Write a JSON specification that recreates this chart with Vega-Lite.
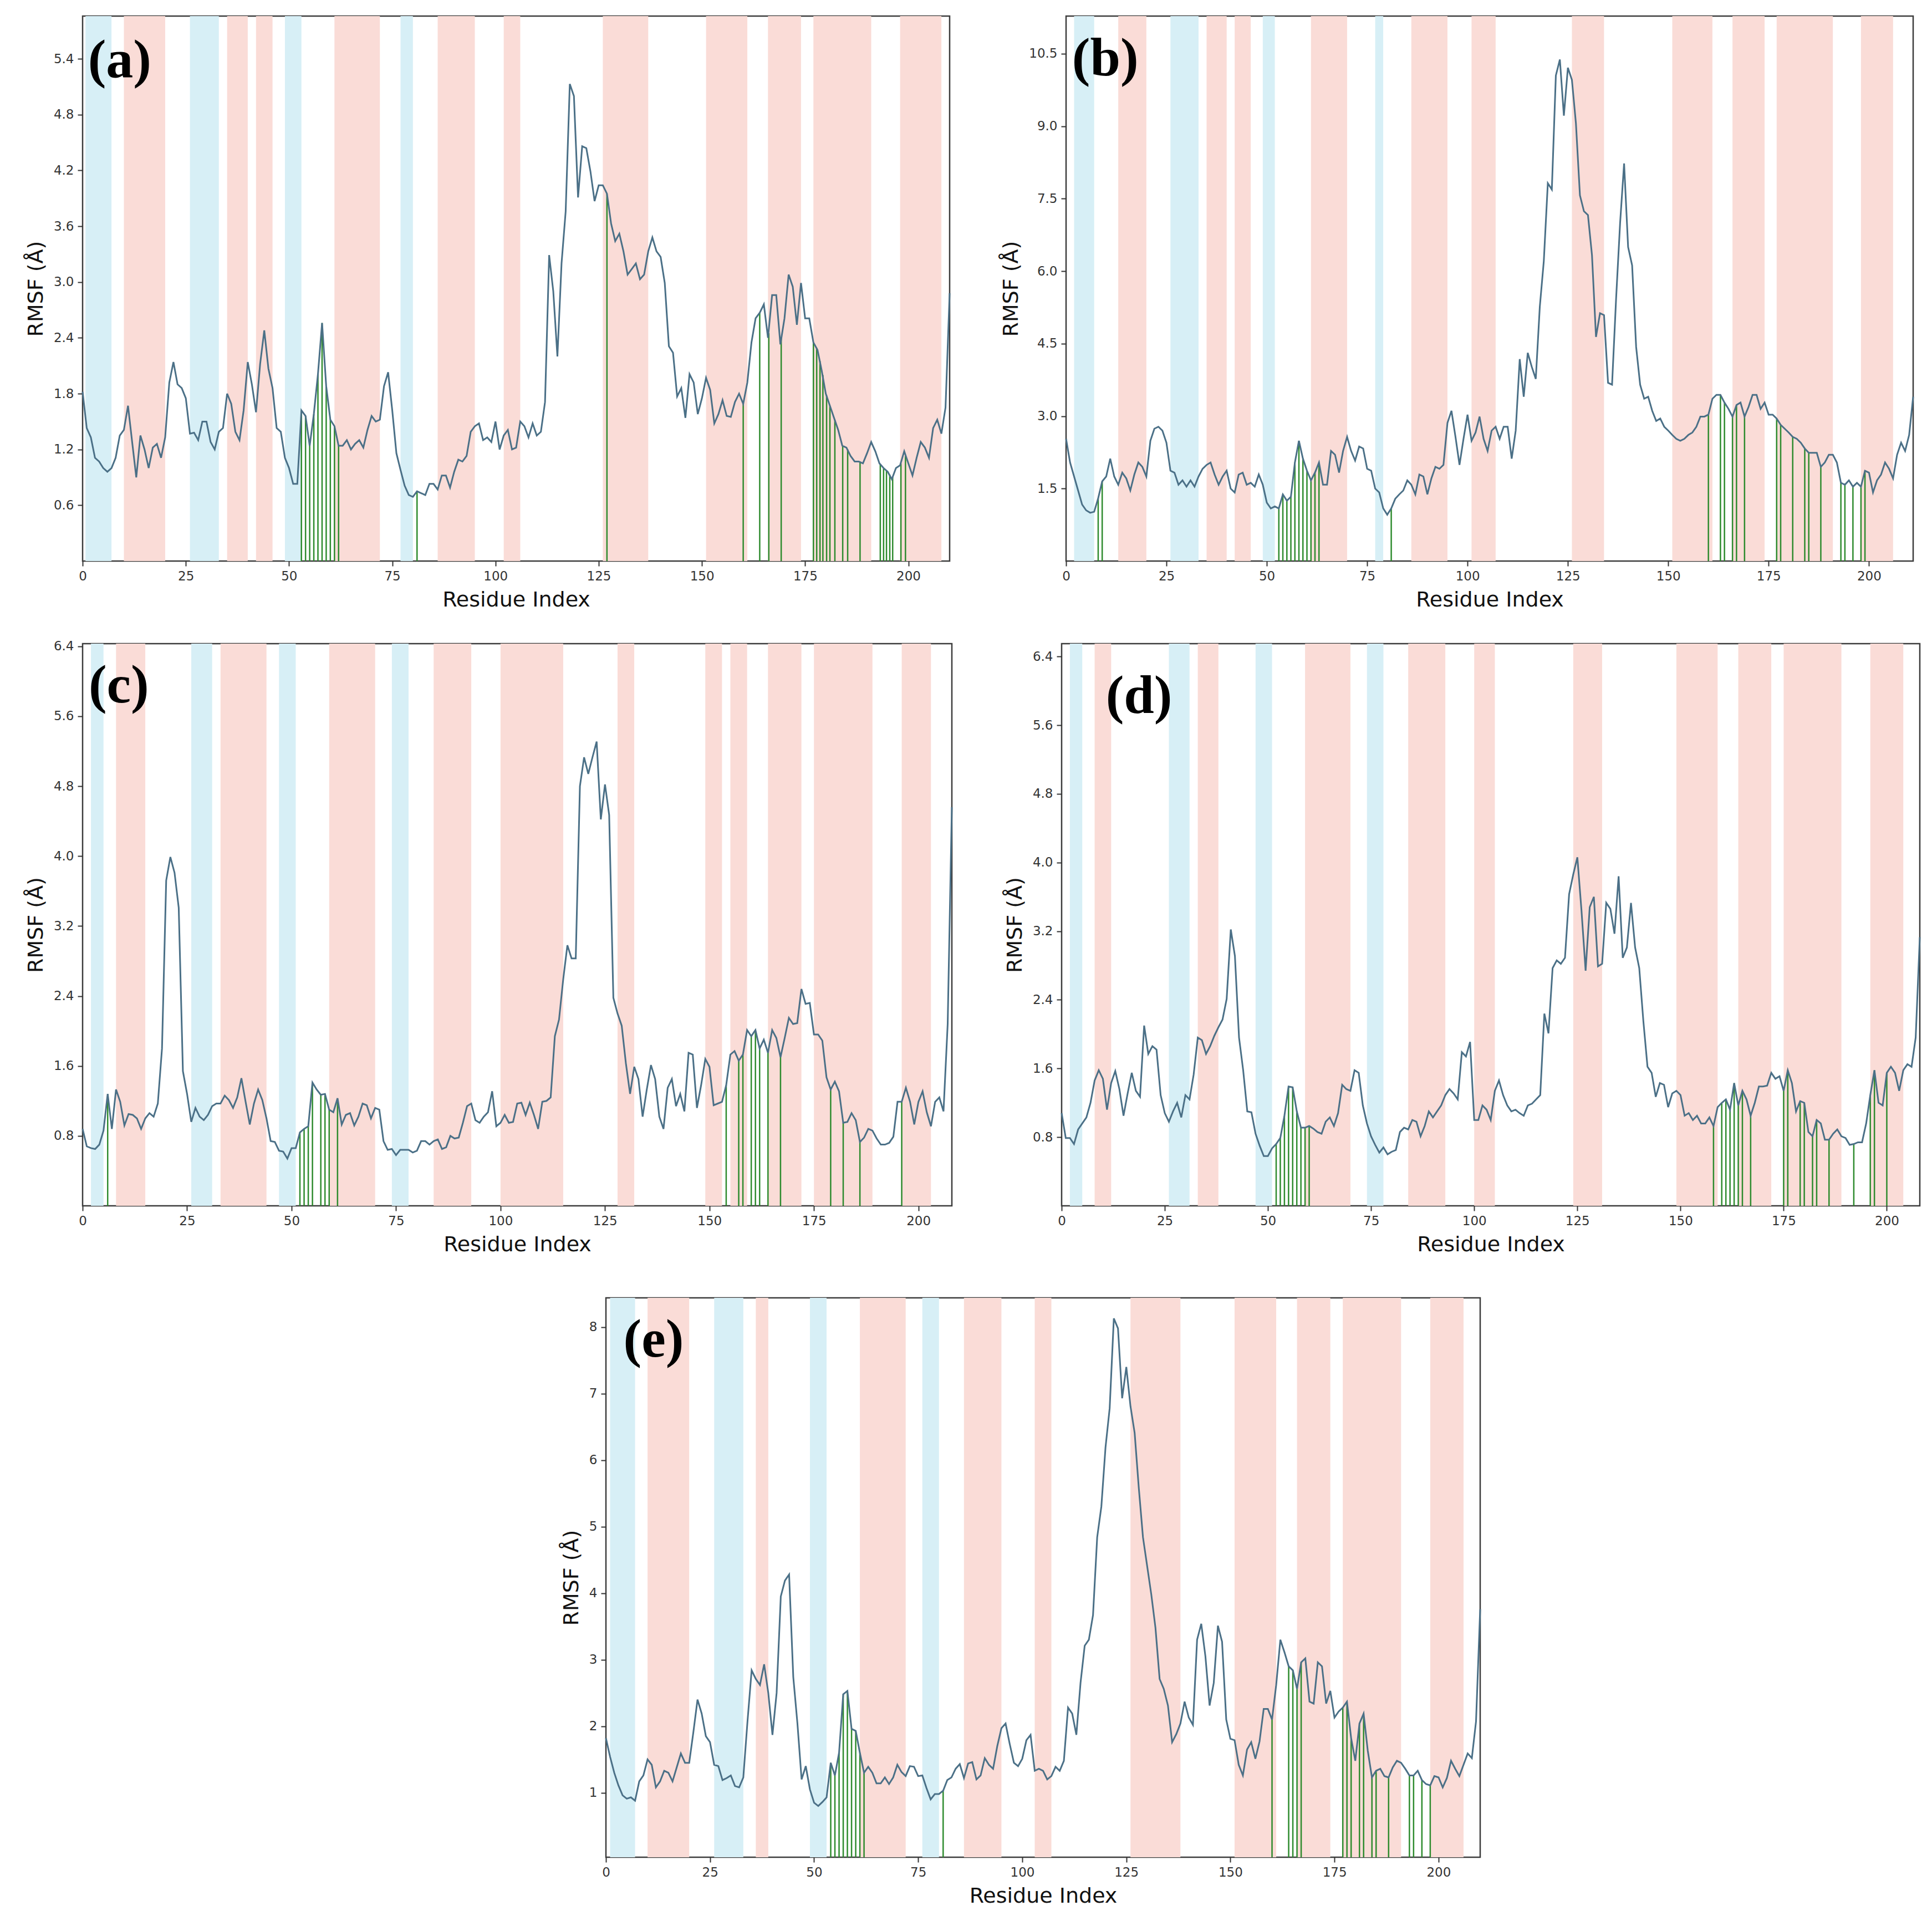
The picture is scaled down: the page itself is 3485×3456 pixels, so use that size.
{
  "$schema": "https://vega.github.io/schema/vega-lite/v6.json",
  "background": "white",
  "padding": {"left": 45, "top": 27, "right": 5, "bottom": 5},
  "datasets": {
    "labels": [
      {"p":"a","lab":"(a)"},{"p":"b","lab":"(b)"},{"p":"c","lab":"(c)"},{"p":"d","lab":"(d)"},{"p":"e","lab":"(e)"}
    ],
    "bands": [
      {"p":"a","r":0.7,"r2":7,"t":"b"},{"p":"a","r":10,"r2":20,"t":"p"},{"p":"a","r":26,"r2":33,"t":"b"},{"p":"a","r":35,"r2":40,"t":"p"},{"p":"a","r":42,"r2":46,"t":"p"},{"p":"a","r":49,"r2":53,"t":"b"},{"p":"a","r":61,"r2":72,"t":"p"},{"p":"a","r":77,"r2":80,"t":"b"},{"p":"a","r":86,"r2":95,"t":"p"},{"p":"a","r":102,"r2":106,"t":"p"},{"p":"a","r":126,"r2":137,"t":"p"},{"p":"a","r":151,"r2":161,"t":"p"},{"p":"a","r":166,"r2":174,"t":"p"},{"p":"a","r":177,"r2":191,"t":"p"},{"p":"a","r":198,"r2":208,"t":"p"},
      {"p":"b","r":2,"r2":7,"t":"b"},{"p":"b","r":13,"r2":20,"t":"p"},{"p":"b","r":26,"r2":33,"t":"b"},{"p":"b","r":35,"r2":40,"t":"p"},{"p":"b","r":42,"r2":46,"t":"p"},{"p":"b","r":49,"r2":52,"t":"b"},{"p":"b","r":61,"r2":70,"t":"p"},{"p":"b","r":77,"r2":79,"t":"b"},{"p":"b","r":86,"r2":95,"t":"p"},{"p":"b","r":101,"r2":107,"t":"p"},{"p":"b","r":126,"r2":134,"t":"p"},{"p":"b","r":151,"r2":161,"t":"p"},{"p":"b","r":166,"r2":174,"t":"p"},{"p":"b","r":177,"r2":191,"t":"p"},{"p":"b","r":198,"r2":206,"t":"p"},
      {"p":"c","r":2,"r2":5,"t":"b"},{"p":"c","r":8,"r2":15,"t":"p"},{"p":"c","r":26,"r2":31,"t":"b"},{"p":"c","r":33,"r2":44,"t":"p"},{"p":"c","r":47,"r2":51,"t":"b"},{"p":"c","r":59,"r2":70,"t":"p"},{"p":"c","r":74,"r2":78,"t":"b"},{"p":"c","r":84,"r2":93,"t":"p"},{"p":"c","r":100,"r2":115,"t":"p"},{"p":"c","r":128,"r2":132,"t":"p"},{"p":"c","r":149,"r2":153,"t":"p"},{"p":"c","r":155,"r2":159,"t":"p"},{"p":"c","r":164,"r2":172,"t":"p"},{"p":"c","r":175,"r2":189,"t":"p"},{"p":"c","r":196,"r2":203,"t":"p"},
      {"p":"d","r":2,"r2":5,"t":"b"},{"p":"d","r":8,"r2":12,"t":"p"},{"p":"d","r":26,"r2":31,"t":"b"},{"p":"d","r":33,"r2":38,"t":"p"},{"p":"d","r":47,"r2":51,"t":"b"},{"p":"d","r":59,"r2":70,"t":"p"},{"p":"d","r":74,"r2":78,"t":"b"},{"p":"d","r":84,"r2":93,"t":"p"},{"p":"d","r":100,"r2":105,"t":"p"},{"p":"d","r":124,"r2":131,"t":"p"},{"p":"d","r":149,"r2":159,"t":"p"},{"p":"d","r":164,"r2":172,"t":"p"},{"p":"d","r":175,"r2":189,"t":"p"},{"p":"d","r":196,"r2":204,"t":"p"},
      {"p":"e","r":1,"r2":7,"t":"b"},{"p":"e","r":10,"r2":20,"t":"p"},{"p":"e","r":26,"r2":33,"t":"b"},{"p":"e","r":36,"r2":39,"t":"p"},{"p":"e","r":49,"r2":53,"t":"b"},{"p":"e","r":61,"r2":72,"t":"p"},{"p":"e","r":76,"r2":80,"t":"b"},{"p":"e","r":86,"r2":95,"t":"p"},{"p":"e","r":103,"r2":107,"t":"p"},{"p":"e","r":126,"r2":138,"t":"p"},{"p":"e","r":151,"r2":161,"t":"p"},{"p":"e","r":166,"r2":174,"t":"p"},{"p":"e","r":177,"r2":191,"t":"p"},{"p":"e","r":198,"r2":206,"t":"p"}
    ],
    "green": [
      {"p":"a","r":53,"v":1.62},{"p":"a","r":54,"v":1.56},{"p":"a","r":55,"v":1.24},{"p":"a","r":56,"v":1.58},{"p":"a","r":57,"v":2.01},{"p":"a","r":58,"v":2.56},{"p":"a","r":59,"v":1.88},{"p":"a","r":60,"v":1.52},{"p":"a","r":61,"v":1.45},{"p":"a","r":62,"v":1.24},{"p":"a","r":81,"v":0.75},{"p":"a","r":127,"v":3.95},{"p":"a","r":160,"v":1.69},{"p":"a","r":164,"v":2.67},{"p":"a","r":166.2,"v":2.45},{"p":"a","r":169.2,"v":2.4},{"p":"a","r":177,"v":2.35},{"p":"a","r":177.8,"v":2.29},{"p":"a","r":178.6,"v":2.15},{"p":"a","r":179.3,"v":2.0},{"p":"a","r":180.2,"v":1.78},{"p":"a","r":181,"v":1.67},{"p":"a","r":182.2,"v":1.52},{"p":"a","r":184.1,"v":1.24},{"p":"a","r":185.3,"v":1.2},{"p":"a","r":188.3,"v":1.07},{"p":"a","r":193.2,"v":1.04},{"p":"a","r":194,"v":1.0},{"p":"a","r":194.7,"v":0.97},{"p":"a","r":195.5,"v":0.93},{"p":"a","r":196.2,"v":0.9},{"p":"a","r":198.2,"v":1.05},{"p":"a","r":199.3,"v":1.13},
      {"p":"b","r":8,"v":1.3},{"p":"b","r":9,"v":1.65},{"p":"b","r":53,"v":1.09},{"p":"b","r":54,"v":1.38},{"p":"b","r":55,"v":1.25},{"p":"b","r":56,"v":1.33},{"p":"b","r":57,"v":2.04},{"p":"b","r":58,"v":2.49},{"p":"b","r":59,"v":2.12},{"p":"b","r":60,"v":1.87},{"p":"b","r":61,"v":1.67},{"p":"b","r":62,"v":1.83},{"p":"b","r":63,"v":2.04},{"p":"b","r":81,"v":1.09},{"p":"b","r":160,"v":3.03},{"p":"b","r":163,"v":3.44},{"p":"b","r":164,"v":3.28},{"p":"b","r":166,"v":2.99},{"p":"b","r":167,"v":3.23},{"p":"b","r":169,"v":2.99},{"p":"b","r":177,"v":2.95},{"p":"b","r":178,"v":2.82},{"p":"b","r":181,"v":2.57},{"p":"b","r":184,"v":2.33},{"p":"b","r":185,"v":2.24},{"p":"b","r":188,"v":1.95},{"p":"b","r":193,"v":1.62},{"p":"b","r":194,"v":1.58},{"p":"b","r":196,"v":1.54},{"p":"b","r":198,"v":1.54},{"p":"b","r":199,"v":1.87},
      {"p":"c","r":6,"v":1.28},{"p":"c","r":52,"v":0.84},{"p":"c","r":53,"v":0.88},{"p":"c","r":54,"v":0.91},{"p":"c","r":55,"v":1.41},{"p":"c","r":57,"v":1.27},{"p":"c","r":58,"v":1.28},{"p":"c","r":59,"v":1.1},{"p":"c","r":61,"v":1.23},{"p":"c","r":154,"v":1.38},{"p":"c","r":157,"v":1.66},{"p":"c","r":158,"v":1.73},{"p":"c","r":160,"v":1.94},{"p":"c","r":161,"v":2.01},{"p":"c","r":162,"v":1.8},{"p":"c","r":164,"v":1.75},{"p":"c","r":167,"v":1.7},{"p":"c","r":179,"v":1.33},{"p":"c","r":182,"v":0.95},{"p":"c","r":186,"v":0.73},{"p":"c","r":196,"v":1.19},
      {"p":"d","r":52,"v":0.72},{"p":"d","r":53,"v":0.79},{"p":"d","r":54,"v":1.05},{"p":"d","r":55,"v":1.39},{"p":"d","r":56,"v":1.38},{"p":"d","r":57,"v":1.1},{"p":"d","r":58,"v":0.91},{"p":"d","r":59,"v":0.91},{"p":"d","r":60,"v":0.93},{"p":"d","r":158,"v":0.93},{"p":"d","r":160,"v":1.2},{"p":"d","r":161,"v":1.24},{"p":"d","r":162,"v":1.12},{"p":"d","r":163,"v":1.43},{"p":"d","r":164,"v":1.17},{"p":"d","r":165,"v":1.34},{"p":"d","r":167,"v":1.05},{"p":"d","r":175,"v":1.34},{"p":"d","r":176,"v":1.58},{"p":"d","r":179,"v":1.22},{"p":"d","r":180,"v":1.2},{"p":"d","r":182,"v":0.81},{"p":"d","r":183,"v":1.0},{"p":"d","r":186,"v":0.77},{"p":"d","r":192,"v":0.72},{"p":"d","r":196,"v":1.29},{"p":"d","r":197,"v":1.58},{"p":"d","r":200,"v":1.55},
      {"p":"e","r":54,"v":1.45},{"p":"e","r":55,"v":1.26},{"p":"e","r":56,"v":1.6},{"p":"e","r":57,"v":2.48},{"p":"e","r":58,"v":2.53},{"p":"e","r":59,"v":1.96},{"p":"e","r":60,"v":1.93},{"p":"e","r":61,"v":1.6},{"p":"e","r":62,"v":1.3},{"p":"e","r":81,"v":1.03},{"p":"e","r":160,"v":2.1},{"p":"e","r":164,"v":2.9},{"p":"e","r":165,"v":2.84},{"p":"e","r":166,"v":2.56},{"p":"e","r":167,"v":2.96},{"p":"e","r":177,"v":2.28},{"p":"e","r":178,"v":2.37},{"p":"e","r":179,"v":1.82},{"p":"e","r":181,"v":2.04},{"p":"e","r":182,"v":2.19},{"p":"e","r":184,"v":1.23},{"p":"e","r":185,"v":1.33},{"p":"e","r":188,"v":1.23},{"p":"e","r":193,"v":1.26},{"p":"e","r":194,"v":1.26},{"p":"e","r":196,"v":1.19},{"p":"e","r":198,"v":1.11}
    ],
    "rmsf": [
      {"p":"a","r":0,"v":1.82},{"p":"a","r":1,"v":1.43},{"p":"a","r":2,"v":1.33},{"p":"a","r":3,"v":1.11},{"p":"a","r":4,"v":1.07},{"p":"a","r":5,"v":1.0},{"p":"a","r":6,"v":0.96},{"p":"a","r":7,"v":1.0},{"p":"a","r":8,"v":1.11},{"p":"a","r":9,"v":1.35},
      {"p":"a","r":10,"v":1.41},{"p":"a","r":11,"v":1.67},{"p":"a","r":12,"v":1.28},{"p":"a","r":13,"v":0.9},{"p":"a","r":14,"v":1.35},{"p":"a","r":15,"v":1.2},{"p":"a","r":16,"v":1.0},{"p":"a","r":17,"v":1.22},{"p":"a","r":18,"v":1.26},{"p":"a","r":19,"v":1.11},
      {"p":"a","r":20,"v":1.33},{"p":"a","r":21,"v":1.92},{"p":"a","r":22,"v":2.14},{"p":"a","r":23,"v":1.9},{"p":"a","r":24,"v":1.86},{"p":"a","r":25,"v":1.75},{"p":"a","r":26,"v":1.37},{"p":"a","r":27,"v":1.38},{"p":"a","r":28,"v":1.3},{"p":"a","r":29,"v":1.5},
      {"p":"a","r":30,"v":1.5},{"p":"a","r":31,"v":1.28},{"p":"a","r":32,"v":1.2},{"p":"a","r":33,"v":1.39},{"p":"a","r":34,"v":1.43},{"p":"a","r":35,"v":1.8},{"p":"a","r":36,"v":1.69},{"p":"a","r":37,"v":1.39},{"p":"a","r":38,"v":1.3},{"p":"a","r":39,"v":1.62},
      {"p":"a","r":40,"v":2.14},{"p":"a","r":41,"v":1.9},{"p":"a","r":42,"v":1.6},{"p":"a","r":43,"v":2.12},{"p":"a","r":44,"v":2.48},{"p":"a","r":45,"v":2.07},{"p":"a","r":46,"v":1.86},{"p":"a","r":47,"v":1.43},{"p":"a","r":48,"v":1.39},{"p":"a","r":49,"v":1.11},
      {"p":"a","r":50,"v":1.0},{"p":"a","r":51,"v":0.83},{"p":"a","r":52,"v":0.83},{"p":"a","r":53,"v":1.62},{"p":"a","r":54,"v":1.56},{"p":"a","r":55,"v":1.24},{"p":"a","r":56,"v":1.58},{"p":"a","r":57,"v":2.01},{"p":"a","r":58,"v":2.56},{"p":"a","r":59,"v":1.88},
      {"p":"a","r":60,"v":1.52},{"p":"a","r":61,"v":1.45},{"p":"a","r":62,"v":1.24},{"p":"a","r":63,"v":1.24},{"p":"a","r":64,"v":1.3},{"p":"a","r":65,"v":1.2},{"p":"a","r":66,"v":1.26},{"p":"a","r":67,"v":1.3},{"p":"a","r":68,"v":1.22},{"p":"a","r":69,"v":1.41},
      {"p":"a","r":70,"v":1.56},{"p":"a","r":71,"v":1.5},{"p":"a","r":72,"v":1.52},{"p":"a","r":73,"v":1.88},{"p":"a","r":74,"v":2.03},{"p":"a","r":75,"v":1.62},{"p":"a","r":76,"v":1.16},{"p":"a","r":77,"v":0.98},{"p":"a","r":78,"v":0.81},{"p":"a","r":79,"v":0.71},
      {"p":"a","r":80,"v":0.69},{"p":"a","r":81,"v":0.75},{"p":"a","r":82,"v":0.73},{"p":"a","r":83,"v":0.71},{"p":"a","r":84,"v":0.83},{"p":"a","r":85,"v":0.83},{"p":"a","r":86,"v":0.77},{"p":"a","r":87,"v":0.92},{"p":"a","r":88,"v":0.92},{"p":"a","r":89,"v":0.79},
      {"p":"a","r":90,"v":0.96},{"p":"a","r":91,"v":1.09},{"p":"a","r":92,"v":1.07},{"p":"a","r":93,"v":1.13},{"p":"a","r":94,"v":1.39},{"p":"a","r":95,"v":1.45},{"p":"a","r":96,"v":1.48},{"p":"a","r":97,"v":1.3},{"p":"a","r":98,"v":1.33},{"p":"a","r":99,"v":1.28},
      {"p":"a","r":100,"v":1.5},{"p":"a","r":101,"v":1.2},{"p":"a","r":102,"v":1.35},{"p":"a","r":103,"v":1.41},{"p":"a","r":104,"v":1.2},{"p":"a","r":105,"v":1.22},{"p":"a","r":106,"v":1.5},{"p":"a","r":107,"v":1.45},{"p":"a","r":108,"v":1.33},{"p":"a","r":109,"v":1.48},
      {"p":"a","r":110,"v":1.35},{"p":"a","r":111,"v":1.39},{"p":"a","r":112,"v":1.71},{"p":"a","r":113,"v":3.29},{"p":"a","r":114,"v":2.9},{"p":"a","r":115,"v":2.2},{"p":"a","r":116,"v":3.2},{"p":"a","r":117,"v":3.76},{"p":"a","r":118,"v":5.13},{"p":"a","r":119,"v":5.0},
      {"p":"a","r":120,"v":3.91},{"p":"a","r":121,"v":4.46},{"p":"a","r":122,"v":4.44},{"p":"a","r":123,"v":4.19},{"p":"a","r":124,"v":3.87},{"p":"a","r":125,"v":4.04},{"p":"a","r":126,"v":4.04},{"p":"a","r":127,"v":3.95},{"p":"a","r":128,"v":3.63},{"p":"a","r":129,"v":3.44},
      {"p":"a","r":130,"v":3.52},{"p":"a","r":131,"v":3.33},{"p":"a","r":132,"v":3.08},{"p":"a","r":133,"v":3.14},{"p":"a","r":134,"v":3.2},{"p":"a","r":135,"v":3.03},{"p":"a","r":136,"v":3.08},{"p":"a","r":137,"v":3.33},{"p":"a","r":138,"v":3.48},{"p":"a","r":139,"v":3.33},
      {"p":"a","r":140,"v":3.27},{"p":"a","r":141,"v":2.99},{"p":"a","r":142,"v":2.31},{"p":"a","r":143,"v":2.24},{"p":"a","r":144,"v":1.77},{"p":"a","r":145,"v":1.86},{"p":"a","r":146,"v":1.54},{"p":"a","r":147,"v":2.01},{"p":"a","r":148,"v":1.92},{"p":"a","r":149,"v":1.58},
      {"p":"a","r":150,"v":1.75},{"p":"a","r":151,"v":1.97},{"p":"a","r":152,"v":1.84},{"p":"a","r":153,"v":1.48},{"p":"a","r":154,"v":1.58},{"p":"a","r":155,"v":1.73},{"p":"a","r":156,"v":1.56},{"p":"a","r":157,"v":1.55},{"p":"a","r":158,"v":1.71},{"p":"a","r":159,"v":1.8},
      {"p":"a","r":160,"v":1.69},{"p":"a","r":161,"v":1.92},{"p":"a","r":162,"v":2.35},{"p":"a","r":163,"v":2.61},{"p":"a","r":164,"v":2.67},{"p":"a","r":165,"v":2.76},{"p":"a","r":166,"v":2.4},{"p":"a","r":167,"v":2.86},{"p":"a","r":168,"v":2.86},{"p":"a","r":169,"v":2.33},
      {"p":"a","r":170,"v":2.61},{"p":"a","r":171,"v":3.08},{"p":"a","r":172,"v":2.95},{"p":"a","r":173,"v":2.54},{"p":"a","r":174,"v":2.99},{"p":"a","r":175,"v":2.61},{"p":"a","r":176,"v":2.61},{"p":"a","r":177,"v":2.35},{"p":"a","r":178,"v":2.27},{"p":"a","r":179,"v":2.05},
      {"p":"a","r":180,"v":1.8},{"p":"a","r":181,"v":1.67},{"p":"a","r":182,"v":1.54},{"p":"a","r":183,"v":1.41},{"p":"a","r":184,"v":1.24},{"p":"a","r":185,"v":1.22},{"p":"a","r":186,"v":1.13},{"p":"a","r":187,"v":1.07},{"p":"a","r":188,"v":1.07},{"p":"a","r":189,"v":1.05},
      {"p":"a","r":190,"v":1.16},{"p":"a","r":191,"v":1.28},{"p":"a","r":192,"v":1.18},{"p":"a","r":193,"v":1.05},{"p":"a","r":194,"v":1.0},{"p":"a","r":195,"v":0.96},{"p":"a","r":196,"v":0.88},{"p":"a","r":197,"v":1.0},{"p":"a","r":198,"v":1.03},{"p":"a","r":199,"v":1.18},
      {"p":"a","r":200,"v":1.05},{"p":"a","r":201,"v":0.92},{"p":"a","r":202,"v":1.11},{"p":"a","r":203,"v":1.28},{"p":"a","r":204,"v":1.22},{"p":"a","r":205,"v":1.11},{"p":"a","r":206,"v":1.43},{"p":"a","r":207,"v":1.52},{"p":"a","r":208,"v":1.37},{"p":"a","r":209,"v":1.65},{"p":"a","r":210,"v":2.88},

      {"p":"b","r":0,"v":2.53},{"p":"b","r":1,"v":2.04},{"p":"b","r":2,"v":1.75},{"p":"b","r":3,"v":1.46},{"p":"b","r":4,"v":1.17},{"p":"b","r":5,"v":1.05},{"p":"b","r":6,"v":1.0},{"p":"b","r":7,"v":1.02},{"p":"b","r":8,"v":1.3},{"p":"b","r":9,"v":1.65},
      {"p":"b","r":10,"v":1.75},{"p":"b","r":11,"v":2.12},{"p":"b","r":12,"v":1.75},{"p":"b","r":13,"v":1.58},{"p":"b","r":14,"v":1.83},{"p":"b","r":15,"v":1.71},{"p":"b","r":16,"v":1.46},{"p":"b","r":17,"v":1.79},{"p":"b","r":18,"v":2.04},{"p":"b","r":19,"v":1.95},
      {"p":"b","r":20,"v":1.75},{"p":"b","r":21,"v":2.49},{"p":"b","r":22,"v":2.74},{"p":"b","r":23,"v":2.78},{"p":"b","r":24,"v":2.7},{"p":"b","r":25,"v":2.45},{"p":"b","r":26,"v":1.87},{"p":"b","r":27,"v":1.83},{"p":"b","r":28,"v":1.58},{"p":"b","r":29,"v":1.67},
      {"p":"b","r":30,"v":1.54},{"p":"b","r":31,"v":1.67},{"p":"b","r":32,"v":1.54},{"p":"b","r":33,"v":1.75},{"p":"b","r":34,"v":1.91},{"p":"b","r":35,"v":1.99},{"p":"b","r":36,"v":2.04},{"p":"b","r":37,"v":1.79},{"p":"b","r":38,"v":1.58},{"p":"b","r":39,"v":1.75},
      {"p":"b","r":40,"v":1.87},{"p":"b","r":41,"v":1.5},{"p":"b","r":42,"v":1.42},{"p":"b","r":43,"v":1.79},{"p":"b","r":44,"v":1.83},{"p":"b","r":45,"v":1.58},{"p":"b","r":46,"v":1.62},{"p":"b","r":47,"v":1.54},{"p":"b","r":48,"v":1.79},{"p":"b","r":49,"v":1.58},
      {"p":"b","r":50,"v":1.21},{"p":"b","r":51,"v":1.09},{"p":"b","r":52,"v":1.13},{"p":"b","r":53,"v":1.09},{"p":"b","r":54,"v":1.38},{"p":"b","r":55,"v":1.25},{"p":"b","r":56,"v":1.33},{"p":"b","r":57,"v":2.04},{"p":"b","r":58,"v":2.49},{"p":"b","r":59,"v":2.12},
      {"p":"b","r":60,"v":1.87},{"p":"b","r":61,"v":1.67},{"p":"b","r":62,"v":1.83},{"p":"b","r":63,"v":2.04},{"p":"b","r":64,"v":1.58},{"p":"b","r":65,"v":1.58},{"p":"b","r":66,"v":2.28},{"p":"b","r":67,"v":2.2},{"p":"b","r":68,"v":1.83},{"p":"b","r":69,"v":2.28},
      {"p":"b","r":70,"v":2.57},{"p":"b","r":71,"v":2.28},{"p":"b","r":72,"v":2.08},{"p":"b","r":73,"v":2.37},{"p":"b","r":74,"v":2.33},{"p":"b","r":75,"v":1.91},{"p":"b","r":76,"v":1.87},{"p":"b","r":77,"v":1.5},{"p":"b","r":78,"v":1.42},{"p":"b","r":79,"v":1.09},
      {"p":"b","r":80,"v":0.96},{"p":"b","r":81,"v":1.09},{"p":"b","r":82,"v":1.29},{"p":"b","r":83,"v":1.38},{"p":"b","r":84,"v":1.46},{"p":"b","r":85,"v":1.67},{"p":"b","r":86,"v":1.58},{"p":"b","r":87,"v":1.38},{"p":"b","r":88,"v":1.79},{"p":"b","r":89,"v":1.75},
      {"p":"b","r":90,"v":1.38},{"p":"b","r":91,"v":1.71},{"p":"b","r":92,"v":1.95},{"p":"b","r":93,"v":1.91},{"p":"b","r":94,"v":1.99},{"p":"b","r":95,"v":2.86},{"p":"b","r":96,"v":3.11},{"p":"b","r":97,"v":2.57},{"p":"b","r":98,"v":1.99},{"p":"b","r":99,"v":2.53},
      {"p":"b","r":100,"v":3.03},{"p":"b","r":101,"v":2.49},{"p":"b","r":102,"v":2.66},{"p":"b","r":103,"v":2.99},{"p":"b","r":104,"v":2.53},{"p":"b","r":105,"v":2.28},{"p":"b","r":106,"v":2.7},{"p":"b","r":107,"v":2.78},{"p":"b","r":108,"v":2.53},{"p":"b","r":109,"v":2.78},
      {"p":"b","r":110,"v":2.78},{"p":"b","r":111,"v":2.12},{"p":"b","r":112,"v":2.7},{"p":"b","r":113,"v":4.18},{"p":"b","r":114,"v":3.4},{"p":"b","r":115,"v":4.31},{"p":"b","r":116,"v":4.02},{"p":"b","r":117,"v":3.77},{"p":"b","r":118,"v":5.26},{"p":"b","r":119,"v":6.21},
      {"p":"b","r":120,"v":7.82},{"p":"b","r":121,"v":7.69},{"p":"b","r":122,"v":10.05},{"p":"b","r":123,"v":10.38},{"p":"b","r":124,"v":9.22},{"p":"b","r":125,"v":10.21},{"p":"b","r":126,"v":9.96},{"p":"b","r":127,"v":9.06},{"p":"b","r":128,"v":7.57},{"p":"b","r":129,"v":7.24},
      {"p":"b","r":130,"v":7.16},{"p":"b","r":131,"v":6.33},{"p":"b","r":132,"v":4.64},{"p":"b","r":133,"v":5.13},{"p":"b","r":134,"v":5.09},{"p":"b","r":135,"v":3.69},{"p":"b","r":136,"v":3.65},{"p":"b","r":137,"v":5.42},{"p":"b","r":138,"v":6.99},{"p":"b","r":139,"v":8.23},
      {"p":"b","r":140,"v":6.5},{"p":"b","r":141,"v":6.12},{"p":"b","r":142,"v":4.43},{"p":"b","r":143,"v":3.65},{"p":"b","r":144,"v":3.36},{"p":"b","r":145,"v":3.4},{"p":"b","r":146,"v":3.11},{"p":"b","r":147,"v":2.9},{"p":"b","r":148,"v":2.95},{"p":"b","r":149,"v":2.78},
      {"p":"b","r":150,"v":2.7},{"p":"b","r":151,"v":2.61},{"p":"b","r":152,"v":2.53},{"p":"b","r":153,"v":2.49},{"p":"b","r":154,"v":2.53},{"p":"b","r":155,"v":2.61},{"p":"b","r":156,"v":2.66},{"p":"b","r":157,"v":2.78},{"p":"b","r":158,"v":2.99},{"p":"b","r":159,"v":2.99},
      {"p":"b","r":160,"v":3.03},{"p":"b","r":161,"v":3.36},{"p":"b","r":162,"v":3.44},{"p":"b","r":163,"v":3.44},{"p":"b","r":164,"v":3.28},{"p":"b","r":165,"v":3.15},{"p":"b","r":166,"v":2.99},{"p":"b","r":167,"v":3.23},{"p":"b","r":168,"v":3.28},{"p":"b","r":169,"v":2.99},
      {"p":"b","r":170,"v":3.19},{"p":"b","r":171,"v":3.44},{"p":"b","r":172,"v":3.44},{"p":"b","r":173,"v":3.15},{"p":"b","r":174,"v":3.28},{"p":"b","r":175,"v":3.03},{"p":"b","r":176,"v":3.03},{"p":"b","r":177,"v":2.95},{"p":"b","r":178,"v":2.82},{"p":"b","r":179,"v":2.74},
      {"p":"b","r":180,"v":2.66},{"p":"b","r":181,"v":2.57},{"p":"b","r":182,"v":2.53},{"p":"b","r":183,"v":2.45},{"p":"b","r":184,"v":2.33},{"p":"b","r":185,"v":2.24},{"p":"b","r":186,"v":2.24},{"p":"b","r":187,"v":2.24},{"p":"b","r":188,"v":1.95},{"p":"b","r":189,"v":2.04},
      {"p":"b","r":190,"v":2.2},{"p":"b","r":191,"v":2.2},{"p":"b","r":192,"v":2.04},{"p":"b","r":193,"v":1.62},{"p":"b","r":194,"v":1.58},{"p":"b","r":195,"v":1.67},{"p":"b","r":196,"v":1.54},{"p":"b","r":197,"v":1.62},{"p":"b","r":198,"v":1.54},{"p":"b","r":199,"v":1.87},
      {"p":"b","r":200,"v":1.83},{"p":"b","r":201,"v":1.42},{"p":"b","r":202,"v":1.67},{"p":"b","r":203,"v":1.79},{"p":"b","r":204,"v":2.04},{"p":"b","r":205,"v":1.91},{"p":"b","r":206,"v":1.71},{"p":"b","r":207,"v":2.2},{"p":"b","r":208,"v":2.45},{"p":"b","r":209,"v":2.28},{"p":"b","r":210,"v":2.61},{"p":"b","r":211,"v":3.4},

      {"p":"c","r":0,"v":0.88},{"p":"c","r":1,"v":0.68},{"p":"c","r":2,"v":0.66},{"p":"c","r":3,"v":0.65},{"p":"c","r":4,"v":0.7},{"p":"c","r":5,"v":0.86},{"p":"c","r":6,"v":1.28},{"p":"c","r":7,"v":0.88},{"p":"c","r":8,"v":1.33},{"p":"c","r":9,"v":1.19},
      {"p":"c","r":10,"v":0.92},{"p":"c","r":11,"v":1.05},{"p":"c","r":12,"v":1.04},{"p":"c","r":13,"v":1.0},{"p":"c","r":14,"v":0.88},{"p":"c","r":15,"v":1.0},{"p":"c","r":16,"v":1.06},{"p":"c","r":17,"v":1.02},{"p":"c","r":18,"v":1.17},{"p":"c","r":19,"v":1.8},
      {"p":"c","r":20,"v":3.72},{"p":"c","r":21,"v":3.99},{"p":"c","r":22,"v":3.81},{"p":"c","r":23,"v":3.41},{"p":"c","r":24,"v":1.54},{"p":"c","r":25,"v":1.28},{"p":"c","r":26,"v":0.96},{"p":"c","r":27,"v":1.12},{"p":"c","r":28,"v":1.02},{"p":"c","r":29,"v":0.98},
      {"p":"c","r":30,"v":1.04},{"p":"c","r":31,"v":1.14},{"p":"c","r":32,"v":1.17},{"p":"c","r":33,"v":1.17},{"p":"c","r":34,"v":1.26},{"p":"c","r":35,"v":1.21},{"p":"c","r":36,"v":1.12},{"p":"c","r":37,"v":1.24},{"p":"c","r":38,"v":1.46},{"p":"c","r":39,"v":1.19},
      {"p":"c","r":40,"v":0.93},{"p":"c","r":41,"v":1.17},{"p":"c","r":42,"v":1.33},{"p":"c","r":43,"v":1.21},{"p":"c","r":44,"v":1.0},{"p":"c","r":45,"v":0.74},{"p":"c","r":46,"v":0.73},{"p":"c","r":47,"v":0.63},{"p":"c","r":48,"v":0.62},{"p":"c","r":49,"v":0.54},
      {"p":"c","r":50,"v":0.66},{"p":"c","r":51,"v":0.66},{"p":"c","r":52,"v":0.84},{"p":"c","r":53,"v":0.88},{"p":"c","r":54,"v":0.91},{"p":"c","r":55,"v":1.41},{"p":"c","r":56,"v":1.33},{"p":"c","r":57,"v":1.27},{"p":"c","r":58,"v":1.28},{"p":"c","r":59,"v":1.1},
      {"p":"c","r":60,"v":1.07},{"p":"c","r":61,"v":1.23},{"p":"c","r":62,"v":0.93},{"p":"c","r":63,"v":1.04},{"p":"c","r":64,"v":1.06},{"p":"c","r":65,"v":0.92},{"p":"c","r":66,"v":1.02},{"p":"c","r":67,"v":1.17},{"p":"c","r":68,"v":1.15},{"p":"c","r":69,"v":1.0},
      {"p":"c","r":70,"v":1.12},{"p":"c","r":71,"v":1.1},{"p":"c","r":72,"v":0.74},{"p":"c","r":73,"v":0.64},{"p":"c","r":74,"v":0.65},{"p":"c","r":75,"v":0.58},{"p":"c","r":76,"v":0.64},{"p":"c","r":77,"v":0.64},{"p":"c","r":78,"v":0.64},{"p":"c","r":79,"v":0.61},
      {"p":"c","r":80,"v":0.63},{"p":"c","r":81,"v":0.74},{"p":"c","r":82,"v":0.74},{"p":"c","r":83,"v":0.7},{"p":"c","r":84,"v":0.74},{"p":"c","r":85,"v":0.76},{"p":"c","r":86,"v":0.65},{"p":"c","r":87,"v":0.67},{"p":"c","r":88,"v":0.8},{"p":"c","r":89,"v":0.77},
      {"p":"c","r":90,"v":0.78},{"p":"c","r":91,"v":0.95},{"p":"c","r":92,"v":1.14},{"p":"c","r":93,"v":1.17},{"p":"c","r":94,"v":0.98},{"p":"c","r":95,"v":0.95},{"p":"c","r":96,"v":1.02},{"p":"c","r":97,"v":1.07},{"p":"c","r":98,"v":1.31},{"p":"c","r":99,"v":0.91},
      {"p":"c","r":100,"v":0.95},{"p":"c","r":101,"v":1.04},{"p":"c","r":102,"v":0.95},{"p":"c","r":103,"v":0.96},{"p":"c","r":104,"v":1.17},{"p":"c","r":105,"v":1.18},{"p":"c","r":106,"v":1.04},{"p":"c","r":107,"v":1.18},{"p":"c","r":108,"v":1.04},{"p":"c","r":109,"v":0.88},
      {"p":"c","r":110,"v":1.19},{"p":"c","r":111,"v":1.2},{"p":"c","r":112,"v":1.24},{"p":"c","r":113,"v":1.94},{"p":"c","r":114,"v":2.13},{"p":"c","r":115,"v":2.59},{"p":"c","r":116,"v":2.98},{"p":"c","r":117,"v":2.83},{"p":"c","r":118,"v":2.83},{"p":"c","r":119,"v":4.8},
      {"p":"c","r":120,"v":5.13},{"p":"c","r":121,"v":4.94},{"p":"c","r":122,"v":5.13},{"p":"c","r":123,"v":5.31},{"p":"c","r":124,"v":4.42},{"p":"c","r":125,"v":4.82},{"p":"c","r":126,"v":4.47},{"p":"c","r":127,"v":2.38},{"p":"c","r":128,"v":2.2},{"p":"c","r":129,"v":2.06},
      {"p":"c","r":130,"v":1.63},{"p":"c","r":131,"v":1.28},{"p":"c","r":132,"v":1.59},{"p":"c","r":133,"v":1.45},{"p":"c","r":134,"v":1.02},{"p":"c","r":135,"v":1.33},{"p":"c","r":136,"v":1.61},{"p":"c","r":137,"v":1.45},{"p":"c","r":138,"v":1.02},{"p":"c","r":139,"v":0.88},
      {"p":"c","r":140,"v":1.35},{"p":"c","r":141,"v":1.45},{"p":"c","r":142,"v":1.14},{"p":"c","r":143,"v":1.28},{"p":"c","r":144,"v":1.08},{"p":"c","r":145,"v":1.75},{"p":"c","r":146,"v":1.73},{"p":"c","r":147,"v":1.12},{"p":"c","r":148,"v":1.38},{"p":"c","r":149,"v":1.68},
      {"p":"c","r":150,"v":1.59},{"p":"c","r":151,"v":1.15},{"p":"c","r":152,"v":1.17},{"p":"c","r":153,"v":1.19},{"p":"c","r":154,"v":1.38},{"p":"c","r":155,"v":1.73},{"p":"c","r":156,"v":1.77},{"p":"c","r":157,"v":1.66},{"p":"c","r":158,"v":1.73},{"p":"c","r":159,"v":2.01},
      {"p":"c","r":160,"v":1.94},{"p":"c","r":161,"v":2.01},{"p":"c","r":162,"v":1.8},{"p":"c","r":163,"v":1.9},{"p":"c","r":164,"v":1.75},{"p":"c","r":165,"v":2.01},{"p":"c","r":166,"v":1.92},{"p":"c","r":167,"v":1.7},{"p":"c","r":168,"v":1.92},{"p":"c","r":169,"v":2.15},
      {"p":"c","r":170,"v":2.08},{"p":"c","r":171,"v":2.09},{"p":"c","r":172,"v":2.48},{"p":"c","r":173,"v":2.31},{"p":"c","r":174,"v":2.32},{"p":"c","r":175,"v":1.96},{"p":"c","r":176,"v":1.96},{"p":"c","r":177,"v":1.89},{"p":"c","r":178,"v":1.47},{"p":"c","r":179,"v":1.33},
      {"p":"c","r":180,"v":1.42},{"p":"c","r":181,"v":1.31},{"p":"c","r":182,"v":0.95},{"p":"c","r":183,"v":0.96},{"p":"c","r":184,"v":1.06},{"p":"c","r":185,"v":0.98},{"p":"c","r":186,"v":0.73},{"p":"c","r":187,"v":0.78},{"p":"c","r":188,"v":0.88},{"p":"c","r":189,"v":0.86},
      {"p":"c","r":190,"v":0.77},{"p":"c","r":191,"v":0.7},{"p":"c","r":192,"v":0.7},{"p":"c","r":193,"v":0.72},{"p":"c","r":194,"v":0.79},{"p":"c","r":195,"v":1.19},{"p":"c","r":196,"v":1.19},{"p":"c","r":197,"v":1.35},{"p":"c","r":198,"v":1.19},{"p":"c","r":199,"v":0.93},
      {"p":"c","r":200,"v":1.19},{"p":"c","r":201,"v":1.31},{"p":"c","r":202,"v":1.07},{"p":"c","r":203,"v":0.91},{"p":"c","r":204,"v":1.19},{"p":"c","r":205,"v":1.24},{"p":"c","r":206,"v":1.08},{"p":"c","r":207,"v":2.08},{"p":"c","r":208,"v":4.56},

      {"p":"d","r":0,"v":1.08},{"p":"d","r":1,"v":0.79},{"p":"d","r":2,"v":0.79},{"p":"d","r":3,"v":0.72},{"p":"d","r":4,"v":0.89},{"p":"d","r":5,"v":0.96},{"p":"d","r":6,"v":1.03},{"p":"d","r":7,"v":1.2},{"p":"d","r":8,"v":1.46},{"p":"d","r":9,"v":1.58},
      {"p":"d","r":10,"v":1.48},{"p":"d","r":11,"v":1.12},{"p":"d","r":12,"v":1.43},{"p":"d","r":13,"v":1.57},{"p":"d","r":14,"v":1.36},{"p":"d","r":15,"v":1.05},{"p":"d","r":16,"v":1.31},{"p":"d","r":17,"v":1.55},{"p":"d","r":18,"v":1.34},{"p":"d","r":19,"v":1.27},
      {"p":"d","r":20,"v":2.1},{"p":"d","r":21,"v":1.77},{"p":"d","r":22,"v":1.86},{"p":"d","r":23,"v":1.82},{"p":"d","r":24,"v":1.29},{"p":"d","r":25,"v":1.08},{"p":"d","r":26,"v":0.98},{"p":"d","r":27,"v":1.1},{"p":"d","r":28,"v":1.2},{"p":"d","r":29,"v":1.03},
      {"p":"d","r":30,"v":1.29},{"p":"d","r":31,"v":1.24},{"p":"d","r":32,"v":1.53},{"p":"d","r":33,"v":1.96},{"p":"d","r":34,"v":1.93},{"p":"d","r":35,"v":1.77},{"p":"d","r":36,"v":1.86},{"p":"d","r":37,"v":1.98},{"p":"d","r":38,"v":2.08},{"p":"d","r":39,"v":2.17},
      {"p":"d","r":40,"v":2.41},{"p":"d","r":41,"v":3.22},{"p":"d","r":42,"v":2.91},{"p":"d","r":43,"v":1.96},{"p":"d","r":44,"v":1.58},{"p":"d","r":45,"v":1.1},{"p":"d","r":46,"v":1.09},{"p":"d","r":47,"v":0.84},{"p":"d","r":48,"v":0.7},{"p":"d","r":49,"v":0.58},
      {"p":"d","r":50,"v":0.58},{"p":"d","r":51,"v":0.67},{"p":"d","r":52,"v":0.72},{"p":"d","r":53,"v":0.79},{"p":"d","r":54,"v":1.05},{"p":"d","r":55,"v":1.39},{"p":"d","r":56,"v":1.38},{"p":"d","r":57,"v":1.1},{"p":"d","r":58,"v":0.91},{"p":"d","r":59,"v":0.91},
      {"p":"d","r":60,"v":0.93},{"p":"d","r":61,"v":0.9},{"p":"d","r":62,"v":0.86},{"p":"d","r":63,"v":0.84},{"p":"d","r":64,"v":0.98},{"p":"d","r":65,"v":1.03},{"p":"d","r":66,"v":0.93},{"p":"d","r":67,"v":1.08},{"p":"d","r":68,"v":1.41},{"p":"d","r":69,"v":1.36},
      {"p":"d","r":70,"v":1.34},{"p":"d","r":71,"v":1.58},{"p":"d","r":72,"v":1.55},{"p":"d","r":73,"v":1.17},{"p":"d","r":74,"v":0.96},{"p":"d","r":75,"v":0.81},{"p":"d","r":76,"v":0.71},{"p":"d","r":77,"v":0.62},{"p":"d","r":78,"v":0.68},{"p":"d","r":79,"v":0.6},
      {"p":"d","r":80,"v":0.63},{"p":"d","r":81,"v":0.65},{"p":"d","r":82,"v":0.86},{"p":"d","r":83,"v":0.91},{"p":"d","r":84,"v":0.89},{"p":"d","r":85,"v":1.0},{"p":"d","r":86,"v":0.98},{"p":"d","r":87,"v":0.81},{"p":"d","r":88,"v":0.93},{"p":"d","r":89,"v":1.1},
      {"p":"d","r":90,"v":1.03},{"p":"d","r":91,"v":1.1},{"p":"d","r":92,"v":1.17},{"p":"d","r":93,"v":1.29},{"p":"d","r":94,"v":1.36},{"p":"d","r":95,"v":1.31},{"p":"d","r":96,"v":1.24},{"p":"d","r":97,"v":1.79},{"p":"d","r":98,"v":1.74},{"p":"d","r":99,"v":1.91},
      {"p":"d","r":100,"v":1.0},{"p":"d","r":101,"v":1.0},{"p":"d","r":102,"v":1.17},{"p":"d","r":103,"v":1.12},{"p":"d","r":104,"v":1.0},{"p":"d","r":105,"v":1.34},{"p":"d","r":106,"v":1.46},{"p":"d","r":107,"v":1.29},{"p":"d","r":108,"v":1.17},{"p":"d","r":109,"v":1.1},
      {"p":"d","r":110,"v":1.12},{"p":"d","r":111,"v":1.08},{"p":"d","r":112,"v":1.05},{"p":"d","r":113,"v":1.17},{"p":"d","r":114,"v":1.19},{"p":"d","r":115,"v":1.24},{"p":"d","r":116,"v":1.29},{"p":"d","r":117,"v":2.24},{"p":"d","r":118,"v":2.01},{"p":"d","r":119,"v":2.77},
      {"p":"d","r":120,"v":2.86},{"p":"d","r":121,"v":2.82},{"p":"d","r":122,"v":2.89},{"p":"d","r":123,"v":3.63},{"p":"d","r":124,"v":3.86},{"p":"d","r":125,"v":4.06},{"p":"d","r":126,"v":3.44},{"p":"d","r":127,"v":2.74},{"p":"d","r":128,"v":3.48},{"p":"d","r":129,"v":3.6},
      {"p":"d","r":130,"v":2.79},{"p":"d","r":131,"v":2.82},{"p":"d","r":132,"v":3.53},{"p":"d","r":133,"v":3.46},{"p":"d","r":134,"v":3.17},{"p":"d","r":135,"v":3.84},{"p":"d","r":136,"v":2.89},{"p":"d","r":137,"v":3.01},{"p":"d","r":138,"v":3.53},{"p":"d","r":139,"v":3.01},
      {"p":"d","r":140,"v":2.77},{"p":"d","r":141,"v":2.15},{"p":"d","r":142,"v":1.62},{"p":"d","r":143,"v":1.55},{"p":"d","r":144,"v":1.27},{"p":"d","r":145,"v":1.43},{"p":"d","r":146,"v":1.41},{"p":"d","r":147,"v":1.15},{"p":"d","r":148,"v":1.31},{"p":"d","r":149,"v":1.34},
      {"p":"d","r":150,"v":1.29},{"p":"d","r":151,"v":1.05},{"p":"d","r":152,"v":1.08},{"p":"d","r":153,"v":1.0},{"p":"d","r":154,"v":1.05},{"p":"d","r":155,"v":0.96},{"p":"d","r":156,"v":0.96},{"p":"d","r":157,"v":1.03},{"p":"d","r":158,"v":0.93},{"p":"d","r":159,"v":1.15},
      {"p":"d","r":160,"v":1.2},{"p":"d","r":161,"v":1.24},{"p":"d","r":162,"v":1.12},{"p":"d","r":163,"v":1.43},{"p":"d","r":164,"v":1.17},{"p":"d","r":165,"v":1.34},{"p":"d","r":166,"v":1.24},{"p":"d","r":167,"v":1.05},{"p":"d","r":168,"v":1.2},{"p":"d","r":169,"v":1.39},
      {"p":"d","r":170,"v":1.39},{"p":"d","r":171,"v":1.4},{"p":"d","r":172,"v":1.55},{"p":"d","r":173,"v":1.48},{"p":"d","r":174,"v":1.51},{"p":"d","r":175,"v":1.34},{"p":"d","r":176,"v":1.58},{"p":"d","r":177,"v":1.43},{"p":"d","r":178,"v":1.1},{"p":"d","r":179,"v":1.22},
      {"p":"d","r":180,"v":1.2},{"p":"d","r":181,"v":0.86},{"p":"d","r":182,"v":0.81},{"p":"d","r":183,"v":1.0},{"p":"d","r":184,"v":0.96},{"p":"d","r":185,"v":0.77},{"p":"d","r":186,"v":0.77},{"p":"d","r":187,"v":0.84},{"p":"d","r":188,"v":0.89},{"p":"d","r":189,"v":0.81},
      {"p":"d","r":190,"v":0.79},{"p":"d","r":191,"v":0.71},{"p":"d","r":192,"v":0.72},{"p":"d","r":193,"v":0.74},{"p":"d","r":194,"v":0.74},{"p":"d","r":195,"v":0.96},{"p":"d","r":196,"v":1.29},{"p":"d","r":197,"v":1.58},{"p":"d","r":198,"v":1.2},{"p":"d","r":199,"v":1.17},
      {"p":"d","r":200,"v":1.55},{"p":"d","r":201,"v":1.62},{"p":"d","r":202,"v":1.55},{"p":"d","r":203,"v":1.34},{"p":"d","r":204,"v":1.58},{"p":"d","r":205,"v":1.65},{"p":"d","r":206,"v":1.62},{"p":"d","r":207,"v":1.96},{"p":"d","r":208,"v":3.13},

      {"p":"e","r":0,"v":1.82},{"p":"e","r":1,"v":1.54},{"p":"e","r":2,"v":1.3},{"p":"e","r":3,"v":1.11},{"p":"e","r":4,"v":0.96},{"p":"e","r":5,"v":0.91},{"p":"e","r":6,"v":0.93},{"p":"e","r":7,"v":0.88},{"p":"e","r":8,"v":1.17},{"p":"e","r":9,"v":1.26},
      {"p":"e","r":10,"v":1.5},{"p":"e","r":11,"v":1.42},{"p":"e","r":12,"v":1.08},{"p":"e","r":13,"v":1.17},{"p":"e","r":14,"v":1.33},{"p":"e","r":15,"v":1.3},{"p":"e","r":16,"v":1.17},{"p":"e","r":17,"v":1.38},{"p":"e","r":18,"v":1.59},{"p":"e","r":19,"v":1.45},
      {"p":"e","r":20,"v":1.45},{"p":"e","r":21,"v":1.91},{"p":"e","r":22,"v":2.4},{"p":"e","r":23,"v":2.19},{"p":"e","r":24,"v":1.85},{"p":"e","r":25,"v":1.76},{"p":"e","r":26,"v":1.42},{"p":"e","r":27,"v":1.4},{"p":"e","r":28,"v":1.19},{"p":"e","r":29,"v":1.22},
      {"p":"e","r":30,"v":1.26},{"p":"e","r":31,"v":1.1},{"p":"e","r":32,"v":1.08},{"p":"e","r":33,"v":1.23},{"p":"e","r":34,"v":2.07},{"p":"e","r":35,"v":2.84},{"p":"e","r":36,"v":2.71},{"p":"e","r":37,"v":2.62},{"p":"e","r":38,"v":2.93},{"p":"e","r":39,"v":2.5},
      {"p":"e","r":40,"v":1.87},{"p":"e","r":41,"v":2.5},{"p":"e","r":42,"v":3.95},{"p":"e","r":43,"v":4.19},{"p":"e","r":44,"v":4.28},{"p":"e","r":45,"v":2.74},{"p":"e","r":46,"v":2.04},{"p":"e","r":47,"v":1.2},{"p":"e","r":48,"v":1.4},{"p":"e","r":49,"v":1.05},
      {"p":"e","r":50,"v":0.85},{"p":"e","r":51,"v":0.8},{"p":"e","r":52,"v":0.86},{"p":"e","r":53,"v":0.93},{"p":"e","r":54,"v":1.45},{"p":"e","r":55,"v":1.26},{"p":"e","r":56,"v":1.6},{"p":"e","r":57,"v":2.48},{"p":"e","r":58,"v":2.53},{"p":"e","r":59,"v":1.96},
      {"p":"e","r":60,"v":1.93},{"p":"e","r":61,"v":1.6},{"p":"e","r":62,"v":1.3},{"p":"e","r":63,"v":1.39},{"p":"e","r":64,"v":1.3},{"p":"e","r":65,"v":1.14},{"p":"e","r":66,"v":1.14},{"p":"e","r":67,"v":1.23},{"p":"e","r":68,"v":1.13},{"p":"e","r":69,"v":1.23},
      {"p":"e","r":70,"v":1.42},{"p":"e","r":71,"v":1.31},{"p":"e","r":72,"v":1.25},{"p":"e","r":73,"v":1.4},{"p":"e","r":74,"v":1.39},{"p":"e","r":75,"v":1.25},{"p":"e","r":76,"v":1.26},{"p":"e","r":77,"v":1.07},{"p":"e","r":78,"v":0.9},{"p":"e","r":79,"v":0.98},
      {"p":"e","r":80,"v":0.98},{"p":"e","r":81,"v":1.03},{"p":"e","r":82,"v":1.19},{"p":"e","r":83,"v":1.23},{"p":"e","r":84,"v":1.36},{"p":"e","r":85,"v":1.43},{"p":"e","r":86,"v":1.22},{"p":"e","r":87,"v":1.44},{"p":"e","r":88,"v":1.46},{"p":"e","r":89,"v":1.2},
      {"p":"e","r":90,"v":1.26},{"p":"e","r":91,"v":1.52},{"p":"e","r":92,"v":1.42},{"p":"e","r":93,"v":1.36},{"p":"e","r":94,"v":1.7},{"p":"e","r":95,"v":1.97},{"p":"e","r":96,"v":2.04},{"p":"e","r":97,"v":1.73},{"p":"e","r":98,"v":1.45},{"p":"e","r":99,"v":1.4},
      {"p":"e","r":100,"v":1.51},{"p":"e","r":101,"v":1.79},{"p":"e","r":102,"v":1.87},{"p":"e","r":103,"v":1.33},{"p":"e","r":104,"v":1.36},{"p":"e","r":105,"v":1.33},{"p":"e","r":106,"v":1.2},{"p":"e","r":107,"v":1.25},{"p":"e","r":108,"v":1.39},{"p":"e","r":109,"v":1.33},
      {"p":"e","r":110,"v":1.48},{"p":"e","r":111,"v":2.28},{"p":"e","r":112,"v":2.19},{"p":"e","r":113,"v":1.87},{"p":"e","r":114,"v":2.65},{"p":"e","r":115,"v":3.21},{"p":"e","r":116,"v":3.3},{"p":"e","r":117,"v":3.67},{"p":"e","r":118,"v":4.84},{"p":"e","r":119,"v":5.3},
      {"p":"e","r":120,"v":6.19},{"p":"e","r":121,"v":6.78},{"p":"e","r":122,"v":8.13},{"p":"e","r":123,"v":7.98},{"p":"e","r":124,"v":6.93},{"p":"e","r":125,"v":7.4},{"p":"e","r":126,"v":6.81},{"p":"e","r":127,"v":6.41},{"p":"e","r":128,"v":5.58},{"p":"e","r":129,"v":4.84},
      {"p":"e","r":130,"v":4.41},{"p":"e","r":131,"v":3.98},{"p":"e","r":132,"v":3.48},{"p":"e","r":133,"v":2.71},{"p":"e","r":134,"v":2.56},{"p":"e","r":135,"v":2.31},{"p":"e","r":136,"v":1.76},{"p":"e","r":137,"v":1.88},{"p":"e","r":138,"v":2.04},{"p":"e","r":139,"v":2.37},
      {"p":"e","r":140,"v":2.13},{"p":"e","r":141,"v":2.02},{"p":"e","r":142,"v":3.3},{"p":"e","r":143,"v":3.54},{"p":"e","r":144,"v":3.05},{"p":"e","r":145,"v":2.31},{"p":"e","r":146,"v":2.65},{"p":"e","r":147,"v":3.51},{"p":"e","r":148,"v":3.27},{"p":"e","r":149,"v":2.1},
      {"p":"e","r":150,"v":1.81},{"p":"e","r":151,"v":1.79},{"p":"e","r":152,"v":1.42},{"p":"e","r":153,"v":1.26},{"p":"e","r":154,"v":1.65},{"p":"e","r":155,"v":1.76},{"p":"e","r":156,"v":1.51},{"p":"e","r":157,"v":1.77},{"p":"e","r":158,"v":2.26},{"p":"e","r":159,"v":2.26},
      {"p":"e","r":160,"v":2.1},{"p":"e","r":161,"v":2.62},{"p":"e","r":162,"v":3.3},{"p":"e","r":163,"v":3.11},{"p":"e","r":164,"v":2.9},{"p":"e","r":165,"v":2.84},{"p":"e","r":166,"v":2.56},{"p":"e","r":167,"v":2.96},{"p":"e","r":168,"v":3.02},{"p":"e","r":169,"v":2.37},
      {"p":"e","r":170,"v":2.34},{"p":"e","r":171,"v":2.96},{"p":"e","r":172,"v":2.9},{"p":"e","r":173,"v":2.34},{"p":"e","r":174,"v":2.53},{"p":"e","r":175,"v":2.13},{"p":"e","r":176,"v":2.22},{"p":"e","r":177,"v":2.28},{"p":"e","r":178,"v":2.37},{"p":"e","r":179,"v":1.82},
      {"p":"e","r":180,"v":1.48},{"p":"e","r":181,"v":2.04},{"p":"e","r":182,"v":2.19},{"p":"e","r":183,"v":1.63},{"p":"e","r":184,"v":1.23},{"p":"e","r":185,"v":1.33},{"p":"e","r":186,"v":1.36},{"p":"e","r":187,"v":1.25},{"p":"e","r":188,"v":1.23},{"p":"e","r":189,"v":1.38},
      {"p":"e","r":190,"v":1.48},{"p":"e","r":191,"v":1.45},{"p":"e","r":192,"v":1.36},{"p":"e","r":193,"v":1.26},{"p":"e","r":194,"v":1.26},{"p":"e","r":195,"v":1.33},{"p":"e","r":196,"v":1.19},{"p":"e","r":197,"v":1.13},{"p":"e","r":198,"v":1.11},{"p":"e","r":199,"v":1.25},
      {"p":"e","r":200,"v":1.23},{"p":"e","r":201,"v":1.08},{"p":"e","r":202,"v":1.22},{"p":"e","r":203,"v":1.48},{"p":"e","r":204,"v":1.36},{"p":"e","r":205,"v":1.25},{"p":"e","r":206,"v":1.42},{"p":"e","r":207,"v":1.59},{"p":"e","r":208,"v":1.52},{"p":"e","r":209,"v":2.07},{"p":"e","r":210,"v":3.76}
    ]
  },
  "vconcat": [
    {
      "vconcat": [
        {
          "hconcat": [
            {
              "width": 1564, "height": 983,
              "layer": [
                {"data": {"name": "bands"}, "transform": [{"filter": "datum.p == 'a'"}], "mark": {"type": "rect"},
                 "encoding": {"x": {"field": "r", "type": "quantitative", "scale": {"domain": [0, 210], "nice": false, "zero": false}, "axis": {"values": [0, 25, 50, 75, 100, 125, 150, 175, 200], "title": "Residue Index"}}, "x2": {"field": "r2"}, "color": {"condition": {"test": "datum.t == 'b'", "value": "#d7eff6"}, "value": "#fadcd7"}}},
                {"data": {"name": "green"}, "transform": [{"filter": "datum.p == 'a'"}], "mark": {"type": "rule", "color": "#2e8b2e", "strokeWidth": 2.5, "clip": true},
                 "encoding": {"x": {"field": "r", "type": "quantitative", "title": "Residue Index"}, "y": {"field": "v", "type": "quantitative", "scale": {"domain": [0, 5.86], "nice": false, "zero": false}, "axis": {"values": [0.6, 1.2, 1.8, 2.4, 3.0, 3.6, 4.2, 4.8, 5.4], "format": ".1f", "title": "RMSF (Å)"}}, "y2": {"datum": 0}}},
                {"data": {"name": "rmsf"}, "transform": [{"filter": "datum.p == 'a'"}], "mark": {"type": "line", "color": "#4b7087", "strokeWidth": 3},
                 "encoding": {"x": {"field": "r", "type": "quantitative", "title": "Residue Index"}, "y": {"field": "v", "type": "quantitative", "scale": {"domain": [0, 5.86], "nice": false, "zero": false}, "axis": {"values": [0.6, 1.2, 1.8, 2.4, 3.0, 3.6, 4.2, 4.8, 5.4], "format": ".1f", "title": "RMSF (Å)"}}}},
                {"data": {"name": "labels"}, "transform": [{"filter": "datum.p == 'a'"}], "mark": {"type": "text", "font": "Liberation Serif", "fontWeight": "bold", "fontSize": 98, "align": "left", "baseline": "middle", "color": "#000"},
                 "encoding": {"text": {"field": "lab", "type": "nominal"}, "x": {"datum": 1.3}, "y": {"datum": 5.38}}}
              ]
            },
            {
              "width": 1528, "height": 983,
              "layer": [
                {"data": {"name": "bands"}, "transform": [{"filter": "datum.p == 'b'"}], "mark": {"type": "rect"},
                 "encoding": {"x": {"field": "r", "type": "quantitative", "scale": {"domain": [0, 211], "nice": false, "zero": false}, "axis": {"values": [0, 25, 50, 75, 100, 125, 150, 175, 200], "title": "Residue Index"}}, "x2": {"field": "r2"}, "color": {"condition": {"test": "datum.t == 'b'", "value": "#d7eff6"}, "value": "#fadcd7"}}},
                {"data": {"name": "green"}, "transform": [{"filter": "datum.p == 'b'"}], "mark": {"type": "rule", "color": "#2e8b2e", "strokeWidth": 2.5, "clip": true},
                 "encoding": {"x": {"field": "r", "type": "quantitative", "title": "Residue Index"}, "y": {"field": "v", "type": "quantitative", "scale": {"domain": [0, 11.28], "nice": false, "zero": false}, "axis": {"values": [1.5, 3.0, 4.5, 6.0, 7.5, 9.0, 10.5], "format": ".1f", "title": "RMSF (Å)"}}, "y2": {"datum": 0}}},
                {"data": {"name": "rmsf"}, "transform": [{"filter": "datum.p == 'b'"}], "mark": {"type": "line", "color": "#4b7087", "strokeWidth": 3},
                 "encoding": {"x": {"field": "r", "type": "quantitative", "title": "Residue Index"}, "y": {"field": "v", "type": "quantitative", "scale": {"domain": [0, 11.28], "nice": false, "zero": false}, "axis": {"values": [1.5, 3.0, 4.5, 6.0, 7.5, 9.0, 10.5], "format": ".1f", "title": "RMSF (Å)"}}}},
                {"data": {"name": "labels"}, "transform": [{"filter": "datum.p == 'b'"}], "mark": {"type": "text", "font": "Liberation Serif", "fontWeight": "bold", "fontSize": 98, "align": "left", "baseline": "middle", "color": "#000"},
                 "encoding": {"text": {"field": "lab", "type": "nominal"}, "x": {"datum": 1.5}, "y": {"datum": 10.39}}}
              ]
            }
          ],
          "spacing": 83,
          "resolve": {"scale": {"x": "independent", "y": "independent"}}
        },
        {
          "hconcat": [
            {
              "width": 1568, "height": 1014,
              "layer": [
                {"data": {"name": "bands"}, "transform": [{"filter": "datum.p == 'c'"}], "mark": {"type": "rect"},
                 "encoding": {"x": {"field": "r", "type": "quantitative", "scale": {"domain": [0, 208], "nice": false, "zero": false}, "axis": {"values": [0, 25, 50, 75, 100, 125, 150, 175, 200], "title": "Residue Index"}}, "x2": {"field": "r2"}, "color": {"condition": {"test": "datum.t == 'b'", "value": "#d7eff6"}, "value": "#fadcd7"}}},
                {"data": {"name": "green"}, "transform": [{"filter": "datum.p == 'c'"}], "mark": {"type": "rule", "color": "#2e8b2e", "strokeWidth": 2.5, "clip": true},
                 "encoding": {"x": {"field": "r", "type": "quantitative", "title": "Residue Index"}, "y": {"field": "v", "type": "quantitative", "scale": {"domain": [0, 6.43], "nice": false, "zero": false}, "axis": {"values": [0.8, 1.6, 2.4, 3.2, 4.0, 4.8, 5.6, 6.4], "format": ".1f", "title": "RMSF (Å)"}}, "y2": {"datum": 0}}},
                {"data": {"name": "rmsf"}, "transform": [{"filter": "datum.p == 'c'"}], "mark": {"type": "line", "color": "#4b7087", "strokeWidth": 3},
                 "encoding": {"x": {"field": "r", "type": "quantitative", "title": "Residue Index"}, "y": {"field": "v", "type": "quantitative", "scale": {"domain": [0, 6.43], "nice": false, "zero": false}, "axis": {"values": [0.8, 1.6, 2.4, 3.2, 4.0, 4.8, 5.6, 6.4], "format": ".1f", "title": "RMSF (Å)"}}}},
                {"data": {"name": "labels"}, "transform": [{"filter": "datum.p == 'c'"}], "mark": {"type": "text", "font": "Liberation Serif", "fontWeight": "bold", "fontSize": 98, "align": "left", "baseline": "middle", "color": "#000"},
                 "encoding": {"text": {"field": "lab", "type": "nominal"}, "x": {"datum": 1.45}, "y": {"datum": 5.94}}}
              ]
            },
            {
              "width": 1548, "height": 1014,
              "layer": [
                {"data": {"name": "bands"}, "transform": [{"filter": "datum.p == 'd'"}], "mark": {"type": "rect"},
                 "encoding": {"x": {"field": "r", "type": "quantitative", "scale": {"domain": [0, 208], "nice": false, "zero": false}, "axis": {"values": [0, 25, 50, 75, 100, 125, 150, 175, 200], "title": "Residue Index"}}, "x2": {"field": "r2"}, "color": {"condition": {"test": "datum.t == 'b'", "value": "#d7eff6"}, "value": "#fadcd7"}}},
                {"data": {"name": "green"}, "transform": [{"filter": "datum.p == 'd'"}], "mark": {"type": "rule", "color": "#2e8b2e", "strokeWidth": 2.5, "clip": true},
                 "encoding": {"x": {"field": "r", "type": "quantitative", "title": "Residue Index"}, "y": {"field": "v", "type": "quantitative", "scale": {"domain": [0, 6.55], "nice": false, "zero": false}, "axis": {"values": [0.8, 1.6, 2.4, 3.2, 4.0, 4.8, 5.6, 6.4], "format": ".1f", "title": "RMSF (Å)"}}, "y2": {"datum": 0}}},
                {"data": {"name": "rmsf"}, "transform": [{"filter": "datum.p == 'd'"}], "mark": {"type": "line", "color": "#4b7087", "strokeWidth": 3},
                 "encoding": {"x": {"field": "r", "type": "quantitative", "title": "Residue Index"}, "y": {"field": "v", "type": "quantitative", "scale": {"domain": [0, 6.55], "nice": false, "zero": false}, "axis": {"values": [0.8, 1.6, 2.4, 3.2, 4.0, 4.8, 5.6, 6.4], "format": ".1f", "title": "RMSF (Å)"}}}},
                {"data": {"name": "labels"}, "transform": [{"filter": "datum.p == 'd'"}], "mark": {"type": "text", "font": "Liberation Serif", "fontWeight": "bold", "fontSize": 98, "align": "left", "baseline": "middle", "color": "#000"},
                 "encoding": {"text": {"field": "lab", "type": "nominal"}, "x": {"datum": 10.7}, "y": {"datum": 5.93}}}
              ]
            }
          ],
          "spacing": 86,
          "resolve": {"scale": {"x": "independent", "y": "independent"}}
        }
      ],
      "spacing": 50,
      "resolve": {"scale": {"x": "independent", "y": "independent"}}
    },
    {
      "hconcat": [
        {"width": 852, "height": 1009, "view": {"stroke": null}, "data": {"values": []}, "mark": "point"},
        {
          "width": 1577, "height": 1009,
          "layer": [
            {"data": {"name": "bands"}, "transform": [{"filter": "datum.p == 'e'"}], "mark": {"type": "rect"},
             "encoding": {"x": {"field": "r", "type": "quantitative", "scale": {"domain": [0, 210], "nice": false, "zero": false}, "axis": {"values": [0, 25, 50, 75, 100, 125, 150, 175, 200], "title": "Residue Index"}}, "x2": {"field": "r2"}, "color": {"condition": {"test": "datum.t == 'b'", "value": "#d7eff6"}, "value": "#fadcd7"}}},
            {"data": {"name": "green"}, "transform": [{"filter": "datum.p == 'e'"}], "mark": {"type": "rule", "color": "#2e8b2e", "strokeWidth": 2.5, "clip": true},
             "encoding": {"x": {"field": "r", "type": "quantitative", "title": "Residue Index"}, "y": {"field": "v", "type": "quantitative", "scale": {"domain": [0.03, 8.44], "nice": false, "zero": false}, "axis": {"values": [1, 2, 3, 4, 5, 6, 7, 8], "format": "d", "title": "RMSF (Å)"}}, "y2": {"datum": 0}}},
            {"data": {"name": "rmsf"}, "transform": [{"filter": "datum.p == 'e'"}], "mark": {"type": "line", "color": "#4b7087", "strokeWidth": 3},
             "encoding": {"x": {"field": "r", "type": "quantitative", "title": "Residue Index"}, "y": {"field": "v", "type": "quantitative", "scale": {"domain": [0.03, 8.44], "nice": false, "zero": false}, "axis": {"values": [1, 2, 3, 4, 5, 6, 7, 8], "format": "d", "title": "RMSF (Å)"}}}},
            {"data": {"name": "labels"}, "transform": [{"filter": "datum.p == 'e'"}], "mark": {"type": "text", "font": "Liberation Serif", "fontWeight": "bold", "fontSize": 98, "align": "left", "baseline": "middle", "color": "#000"},
             "encoding": {"text": {"field": "lab", "type": "nominal"}, "x": {"datum": 4.2}, "y": {"datum": 7.8}}}
          ]
        }
      ],
      "spacing": 10,
      "resolve": {"scale": {"x": "independent", "y": "independent"}}
    }
  ],
  "spacing": 73,
  "resolve": {"scale": {"x": "independent", "y": "independent"}},
  "config": {
    "view": {"stroke": "#3c3c3c", "strokeWidth": 2.5},
    "axis": {
      "grid": false,
      "domain": false,
      "tickColor": "#333333",
      "tickSize": 9,
      "tickWidth": 2,
      "labelFont": "DejaVu Sans",
      "labelFontSize": 23,
      "labelColor": "#333333",
      "labelPadding": 7,
      "labelOverlap": false,
      "labelFlush": false,
      "titleFont": "DejaVu Sans",
      "titleFontSize": 38,
      "titleFontWeight": "normal",
      "titleColor": "#111111",
      "titlePadding": 12
    }
  }
}
